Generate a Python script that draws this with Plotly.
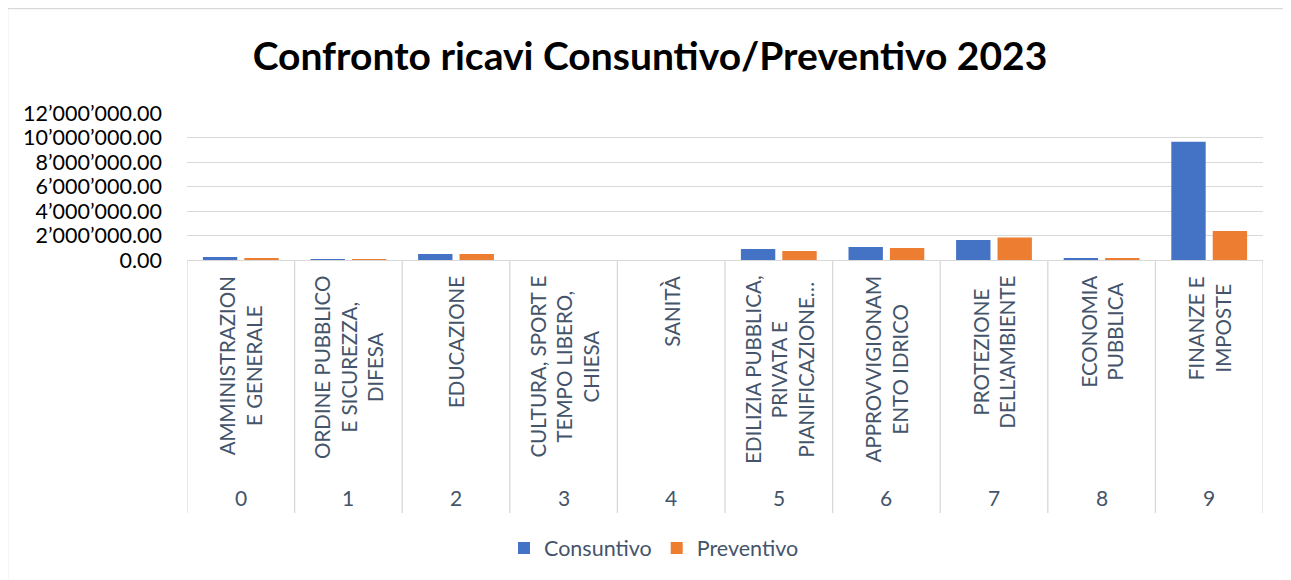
import plotly.graph_objects as go

categories = [
    "AMMINISTRAZION<br>E GENERALE",
    "ORDINE PUBBLICO<br>E SICUREZZA,<br>DIFESA",
    "EDUCAZIONE",
    "CULTURA, SPORT E<br>TEMPO LIBERO,<br>CHIESA",
    "SANITÀ",
    "EDILIZIA PUBBLICA,<br>PRIVATA E<br>PIANIFICAZIONE…",
    "APPROVVIGIONAM<br>ENTO IDRICO",
    "PROTEZIONE<br>DELL'AMBIENTE",
    "ECONOMIA<br>PUBBLICA",
    "FINANZE E<br>IMPOSTE",
]
codes = list(range(10))
consuntivo = [250000, 80000, 490000, 0, 0, 900000, 1060000, 1640000, 160000, 9650000]
preventivo = [160000, 80000, 490000, 0, 0, 740000, 980000, 1830000, 160000, 2370000]
y_ticks = [0, 2000000, 4000000, 6000000, 8000000, 10000000, 12000000]

FONT = "Lato"
TXT = "#44546A"
GRID = "#D9D9D9"
OFF = 8  # page body margin

fig = go.Figure()
fig.add_trace(go.Bar(x=codes, y=consuntivo, name="Consuntivo", marker=dict(color="#4472C4", line_width=0)))
fig.add_trace(go.Bar(x=codes, y=preventivo, name="Preventivo", marker=dict(color="#ED7D31", line_width=0)))

W, H = 1283, 572
# reference pixel positions of the plot area (page coords), shifted by body margin
L, R, T, B = 187 - OFF, 1263 - OFF, 113 - OFF, 260 - OFF
pw, ph = R - L, B - T

def px_x(p):
    return (p - OFF - L) / pw

def px_y(p):
    return (B - (p - OFF)) / ph

annotations = []
for c, name in zip(codes, categories):
    annotations.append(dict(
        x=c, y=0, xref="x", yref="paper", text=name, showarrow=False,
        textangle=-90, xanchor="center", yanchor="top", yshift=-14,
        align="center", font=dict(family=FONT, size=20.5, color=TXT),
    ))
    annotations.append(dict(
        x=c, y=px_y(497), xref="x", yref="paper", text=str(c), showarrow=False,
        xanchor="center", yanchor="middle",
        font=dict(family=FONT, size=21, color=TXT),
    ))

shapes = []
for i in range(len(codes) + 1):
    shapes.append(dict(
        type="line", xref="x", yref="paper", x0=i - 0.5, x1=i - 0.5,
        y0=0, y1=px_y(513), line=dict(color=GRID, width=1.3), layer="below",
    ))
# chart border (left and top edges visible)
shapes.append(dict(
    type="rect", xref="paper", yref="paper",
    x0=px_x(7.5), x1=px_x(1320), y0=px_y(620), y1=px_y(8.5),
    line=dict(color="#D9D9D9", width=1.5), fillcolor="rgba(0,0,0,0)",
))

fig.update_layout(
    width=W, height=H,
    margin=dict(l=L, r=W - R, t=T, b=H - B, autoexpand=False),
    paper_bgcolor="white", plot_bgcolor="white",
    separators=".’",
    title=dict(
        text="<b>Confronto ricavi Consuntivo/Preventivo 2023</b>",
        x=(650 - OFF) / W, xanchor="center", xref="container",
        y=1 - (56 - OFF) / H, yanchor="middle", yref="container",
        font=dict(family=FONT, size=39, color="#000000"),
    ),
    barmode="group", bargap=0.23, bargroupgap=0.17,
    xaxis=dict(
        range=[-0.5, len(codes) - 0.5], showticklabels=False, showgrid=False,
        showline=True, linecolor=GRID, linewidth=1.3, zeroline=False, ticks="",
        fixedrange=True,
    ),
    yaxis=dict(
        range=[0, 12000000], tickvals=y_ticks, tickformat=",.2f",
        showgrid=True, gridcolor=GRID, gridwidth=1.3, zeroline=False,
        showline=False, ticks="", ticklabelstandoff=24,
        tickfont=dict(family=FONT, size=21.5, color="#000000"),
    ),
    legend=dict(
        orientation="h", x=px_x(654), xanchor="center", y=px_y(548), yanchor="middle",
        font=dict(family=FONT, size=21.5, color=TXT), itemwidth=30,
        traceorder="normal",
    ),
    annotations=annotations,
    shapes=shapes,
)

fig.write_html("out.html")
